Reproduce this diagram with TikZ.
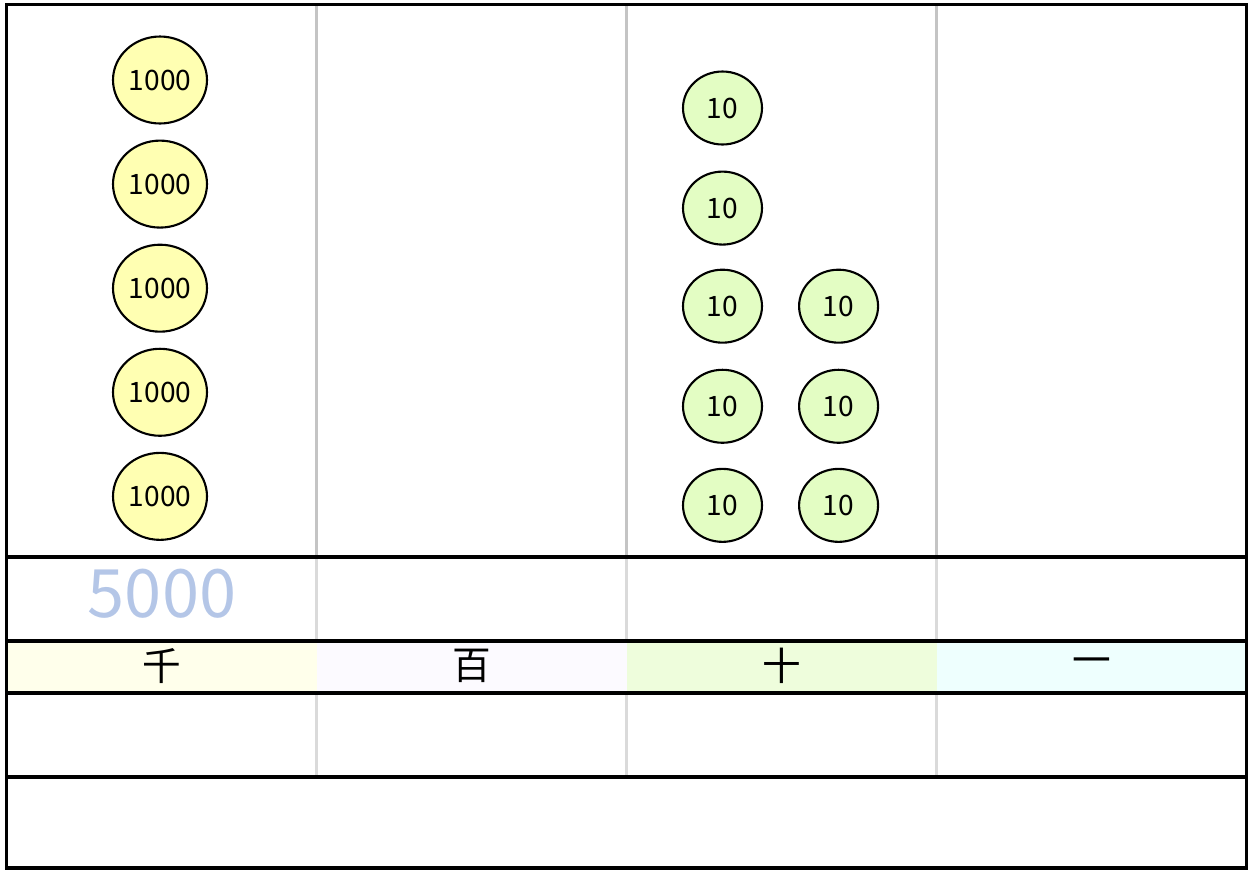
\documentclass[tikz,border=0pt]{standalone}
\usepackage{fontspec}
\setmainfont{Noto Sans CJK JP}
\usetikzlibrary{positioning, shapes.geometric}
\definecolor{coinyellow}{HTML}{FFFFB2}
\definecolor{coingreen}{HTML}{E3FDC3}
\definecolor{cellthousand}{HTML}{FFFFEB}
\definecolor{cellhundred}{HTML}{FCFAFF}
\definecolor{cellten}{HTML}{EEFDDC}
\definecolor{cellone}{HTML}{EEFFFE}
\definecolor{rulegray}{HTML}{C4C4C4}
\definecolor{rulelight}{HTML}{DADADA}
\definecolor{totalblue}{HTML}{B4C6E7}

\begin{document}
\begin{tikzpicture}[
    x=0.02cm, y=-0.02cm,
    bigcoin/.style={ellipse, draw=black, line width=1.2pt, fill=coinyellow,
                    minimum width=1.88cm, minimum height=1.74cm, inner sep=0pt,
                    font=\fontsize{16}{16}\selectfont},
    smallcoin/.style={ellipse, draw=black, line width=1.2pt, fill=coingreen,
                      minimum width=1.58cm, minimum height=1.46cm, inner sep=0pt,
                      font=\fontsize{16}{16}\selectfont},
    frame/.style={line width=2pt, black},
    divider/.style={line width=1.7pt, rulegray},
    softdivider/.style={line width=1.7pt, rulelight},
    place/.style={font=\fontsize{22}{22}\selectfont},
    total/.style={text=totalblue, font=\fontsize{38}{38}\selectfont}
  ]
    \useasboundingbox (0,0) rectangle (1251,870);

    % place-value header colours
    \fill[cellthousand] (6.5,641) rectangle (316.5,693);
    \fill[cellhundred] (316.5,641) rectangle (626.5,693);
    \fill[cellten] (626.5,641) rectangle (936.5,693);
    \fill[cellone] (936.5,641) rectangle (1246.5,693);

    % column rules
    \draw[divider] (316.5,4.5) -- (316.5,557) (626.5,4.5) -- (626.5,557) (936.5,4.5) -- (936.5,557);
    \draw[softdivider] (316.5,557) -- (316.5,641) (626.5,557) -- (626.5,641) (936.5,557) -- (936.5,641);
    \draw[softdivider] (316.5,693) -- (316.5,777) (626.5,693) -- (626.5,777) (936.5,693) -- (936.5,777);

    % row rules and frame
    \draw[frame] (6.5,4.5) rectangle (1246.5,868);
    \draw[frame] (6.5,557) -- (1246.5,557);
    \draw[frame] (6.5,641) -- (1246.5,641);
    \draw[frame] (6.5,693) -- (1246.5,693);
    \draw[frame] (6.5,777) -- (1246.5,777);

    % thousands
    \node[bigcoin] (k1) at (160,80) {1000};
    \node[bigcoin, below=0.3cm of k1] (k2) {1000};
    \node[bigcoin, below=0.3cm of k2] (k3) {1000};
    \node[bigcoin, below=0.3cm of k3] (k4) {1000};
    \node[bigcoin, below=0.3cm of k4] (k5) {1000};

    % tens
    \node[smallcoin] (t1) at (722.5,108) {10};
    \node[smallcoin, below=0.5cm of t1] (t2) {10};
    \node[smallcoin, below=0.46cm of t2] (t3) {10};
    \node[smallcoin, below=0.5cm of t3] (t4) {10};
    \node[smallcoin, below=0.48cm of t4] (t5) {10};
    \node[smallcoin, right=0.7cm of t3] (t6) {10};
    \node[smallcoin, right=0.7cm of t4] (t7) {10};
    \node[smallcoin, right=0.7cm of t5] (t8) {10};

    \node[total] (sum) at (162,594) {5000};

    \node[place] (thousands) at (162,666) {千};
    \node[place] (hundreds) at (471.5,666) {百};
    \node[place] (tens) at (781.5,666) {十};
    \node[place] (ones) at (1091.5,666) {一};
  \end{tikzpicture}
\end{document}
